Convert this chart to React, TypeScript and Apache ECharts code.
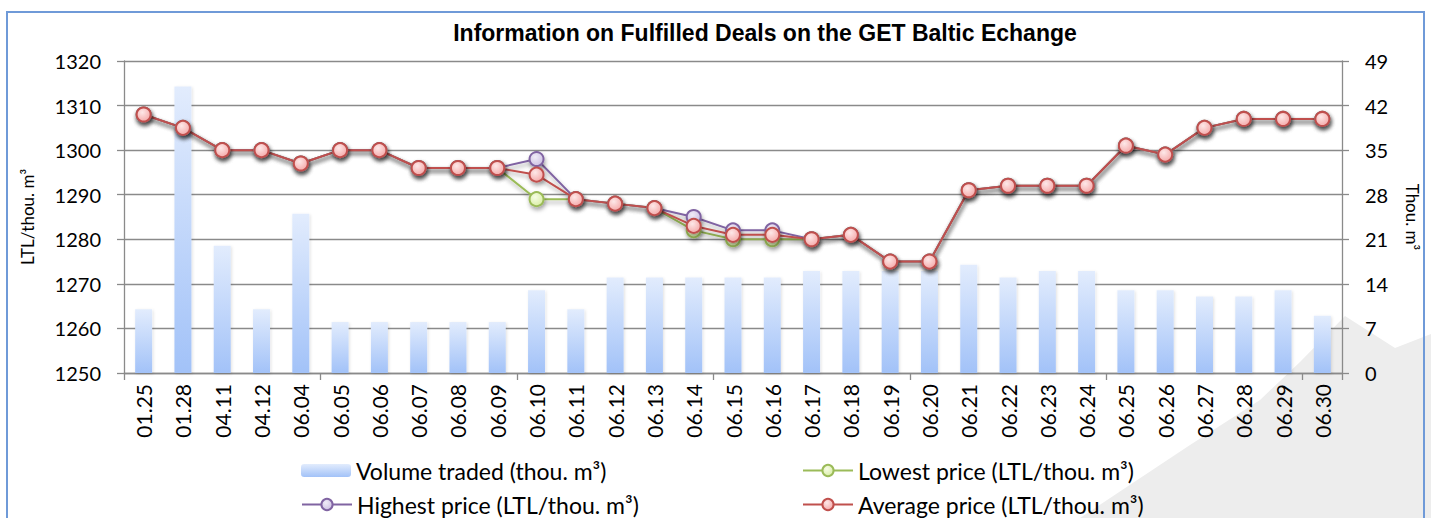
import React, { useEffect, useRef } from "react";
import * as echarts from "echarts";

const categories = [
  "01.25", "01.28", "04.11", "04.12", "06.04", "06.05", "06.06", "06.07", "06.08", "06.09",
  "06.10", "06.11", "06.12", "06.13", "06.14", "06.15", "06.16", "06.17", "06.18", "06.19",
  "06.20", "06.21", "06.22", "06.23", "06.24", "06.25", "06.26", "06.27", "06.28", "06.29", "06.30",
];

const volumeTraded = [10, 45, 20, 10, 25, 8, 8, 8, 8, 8, 13, 10, 15, 15, 15, 15, 15, 16, 16, 16, 16, 17, 15, 16, 16, 13, 13, 12, 12, 13, 9];

const averagePrice = [1308, 1305, 1300, 1300, 1297, 1300, 1300, 1296, 1296, 1296, 1294.5, 1289, 1288, 1287, 1283, 1281, 1281, 1280, 1281, 1275, 1275, 1291, 1292, 1292, 1292, 1301, 1299, 1305, 1307, 1307, 1307];
const highestPrice = [1308, 1305, 1300, 1300, 1297, 1300, 1300, 1296, 1296, 1296, 1298, 1289, 1288, 1287, 1285, 1282, 1282, 1280, 1281, 1275, 1275, 1291, 1292, 1292, 1292, 1301, 1299, 1305, 1307, 1307, 1307];
const lowestPrice = [1308, 1305, 1300, 1300, 1297, 1300, 1300, 1296, 1296, 1296, 1289, 1289, 1288, 1287, 1282, 1280, 1280, 1280, 1281, 1275, 1275, 1291, 1292, 1292, 1292, 1301, 1299, 1305, 1307, 1307, 1307];

const priceAxis = { min: 1250, max: 1320, interval: 10 };
const volumeAxis = { min: 0, max: 49, interval: 7 };

const titleText = "Information on Fulfilled Deals on the GET Baltic Echange";
const seriesNames = [
  "Volume traded (thou. m³)",
  "Lowest price (LTL/thou. m³)",
  "Highest price (LTL/thou. m³)",
  "Average price (LTL/thou. m³)",
];

const FONT = "Lato, 'Open Sans', sans-serif";
const TITLE_FONT = "'Liberation Sans', Arial, sans-serif";

function radial(inner: string, outer: string) {
  return new echarts.graphic.RadialGradient(0.4, 0.35, 0.75, [
    { offset: 0, color: inner },
    { offset: 1, color: outer },
  ]);
}

export default function App() {
  const ref = useRef<HTMLDivElement>(null);

  useEffect(() => {
    if (!ref.current) return;
    const chart = echarts.init(ref.current, undefined, { renderer: "svg" });
    const gridColor = "#8a8a8a";
    const shadow = { shadowColor: "rgba(0,0,0,0.35)", shadowBlur: 4, shadowOffsetX: 1, shadowOffsetY: 3 };

    const lineSeries = (name: string, data: number[], color: string, inner: string, outer: string) => ({
      name,
      type: "line",
      yAxisIndex: 0,
      data,
      symbol: "circle",
      symbolSize: 14,
      lineStyle: { color, width: 2, ...shadow },
      itemStyle: { color: radial(inner, outer), borderColor: color, borderWidth: 2, ...shadow },
      emphasis: { disabled: true },
      z: 3,
    });

    const legendBase = {
      itemWidth: 50,
      itemHeight: 14,
      itemGap: 0,
      textStyle: { fontFamily: FONT, fontSize: 23, color: "#000" },
      selectedMode: false,
    };

    chart.setOption({
      animation: false,
      backgroundColor: "#ffffff",
      title: {
        text: titleText,
        left: 760,
        textAlign: "center",
        top: 16,
        textStyle: { fontFamily: TITLE_FONT, fontSize: 23, fontWeight: "bold", color: "#000" },
      },
      graphic: [
        {
          type: "polygon",
          z: -10,
          silent: true,
          shape: {
            points: [
              [1080, 518], [1190, 445], [1260, 400], [1300, 362], [1345, 316],
              [1395, 348], [1431, 334], [1431, 518],
            ],
          },
          style: { fill: "#ededed" },
        },
        {
          type: "rect",
          z: 10,
          silent: true,
          shape: { x: 7, y: 12, width: 1417, height: 540 },
          style: { fill: "none", stroke: "#6f9ad8", lineWidth: 2 },
        },
      ],
      legend: [
        { ...legendBase, data: [seriesNames[0]], left: 296, top: 454, itemHeight: 13 },
        { ...legendBase, data: [seriesNames[1]], left: 797, top: 454 },
        { ...legendBase, data: [seriesNames[2]], left: 296, top: 488 },
        { ...legendBase, data: [seriesNames[3]], left: 797, top: 488 },
      ],
      grid: { left: 124, right: 89, top: 61, bottom: 145, containLabel: false },
      xAxis: {
        type: "category",
        data: categories,
        boundaryGap: true,
        axisLine: { lineStyle: { color: gridColor, width: 1.3 } },
        axisTick: { show: true, interval: 4, length: 7, lineStyle: { color: gridColor, width: 1.3 } },
        axisLabel: { interval: 0, rotate: 90, margin: 11, fontFamily: FONT, fontSize: 21, color: "#000" },
        splitLine: { show: false },
      },
      yAxis: [
        {
          type: "value",
          ...priceAxis,
          position: "left",
          name: "LTL/thou. m³",
          nameLocation: "middle",
          nameGap: 88,
          nameRotate: 90,
          nameTextStyle: { fontFamily: FONT, fontSize: 17, color: "#000" },
          axisLine: { show: true, lineStyle: { color: gridColor, width: 1.3 } },
          axisTick: { show: true, length: 7, lineStyle: { color: gridColor, width: 1.3 } },
          axisLabel: { margin: 23, fontFamily: FONT, fontSize: 20, color: "#000", formatter: (v: number) => String(v) },
          splitLine: { show: true, lineStyle: { color: gridColor, width: 1.3 } },
        },
        {
          type: "value",
          ...volumeAxis,
          position: "right",
          name: "Thou. m³",
          nameLocation: "middle",
          nameGap: 62,
          nameRotate: -90,
          nameTextStyle: { fontFamily: FONT, fontSize: 17, color: "#000" },
          axisLine: { show: true, lineStyle: { color: gridColor, width: 1.3 } },
          axisTick: { show: true, length: 7, lineStyle: { color: gridColor, width: 1.3 } },
          axisLabel: { margin: 23, fontFamily: FONT, fontSize: 20, color: "#000", formatter: (v: number) => String(v) },
          splitLine: { show: false },
        },
      ],
      series: [
        {
          name: seriesNames[0],
          type: "bar",
          yAxisIndex: 1,
          data: volumeTraded,
          barWidth: 17,
          itemStyle: {
            color: new echarts.graphic.LinearGradient(0, 0, 0, 1, [
              { offset: 0, color: "#e2ecfd" },
              { offset: 1, color: "#a2c2f8" },
            ]),
            shadowColor: "rgba(0,0,0,0.12)",
            shadowBlur: 3,
            shadowOffsetX: 1,
            shadowOffsetY: 1,
          },
          emphasis: { disabled: true },
          z: 2,
        },
        lineSeries(seriesNames[1], lowestPrice, "#9bbb59", "#f6fce6", "#d6ec9e"),
        lineSeries(seriesNames[2], highestPrice, "#8064a2", "#f0ecf7", "#c9bbe0"),
        lineSeries(seriesNames[3], averagePrice, "#c0504d", "#fde8e8", "#f4a2a2"),
      ],
    });

    return () => chart.dispose();
  }, []);

  return (
    <div
      ref={ref}
      style={{ position: "absolute", left: 0, top: 0, width: 1431, height: 518 }}
    />
  );
}
